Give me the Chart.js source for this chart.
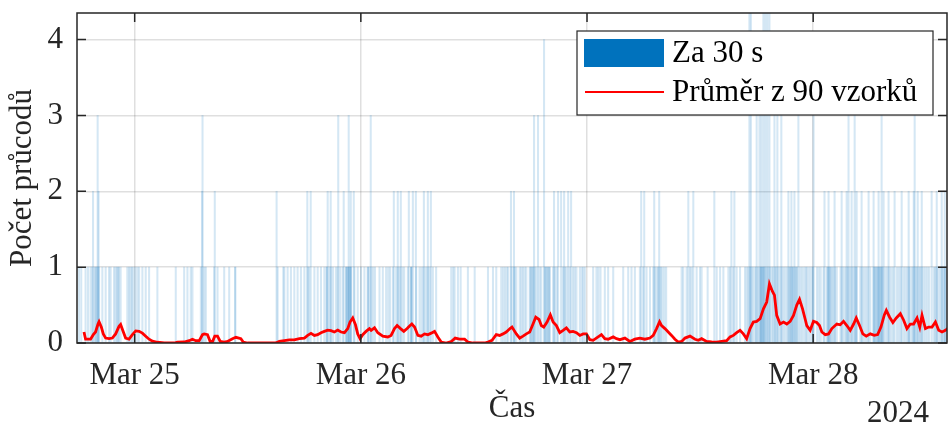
<!DOCTYPE html>
<html>
<head>
<meta charset="utf-8">
<script src="https://cdn.jsdelivr.net/npm/chart.js@4/dist/chart.umd.min.js"></script>
<style>
html,body{margin:0;padding:0;background:#fff;}
#c{display:block;}
</style>
</head>
<body>
<canvas id="c" width="950" height="427" style="width:950px;height:427px"></canvas>
<script>
// ---- DATA (time in hours relative to 2024-03-25 00:00) ----
const xTickHours = [0, 24, 48, 72];
const xTickLabels = ['Mar 25', 'Mar 26', 'Mar 27', 'Mar 28'];
const yTicks = [0, 1, 2, 3, 4];
const yearLabel = '2024';

// 30-s bins with 1 passage
const count1Hours = [-5.91,-5.67,-5.21,-4.95,-4.68,-4.50,-4.25,-4.15,-4.04,-3.93,-3.78,-3.43,-3.08,-2.72,-2.55,-2.19,-2.02,-1.89,-1.76,-1.66,-1.49,-0.78,-0.60,-0.43,-0.30,-0.14,0.07,0.29,0.47,0.82,1.17,1.53,2.41,4.36,5.25,5.60,5.95,6.13,7.02,7.38,7.55,8.44,8.79,9.50,
10.03,10.66,10.68,15.17,15.77,15.88,16.23,16.58,16.94,17.29,17.64,18.01,18.36,18.52,19.07,19.42,19.77,20.13,20.37,20.39,20.66,20.85,21.06,21.36,21.55,21.81,22.08,22.43,22.45,22.55,22.66,22.70,22.80,22.90,22.96,23.32,23.67,24.02,24.38,24.73,
24.75,24.90,25.10,25.30,25.50,25.98,26.33,26.68,26.90,27.10,27.40,27.75,27.95,28.15,28.40,28.60,28.99,29.33,29.35,29.37,29.87,30.23,30.45,30.65,30.90,31.10,31.30,31.64,31.99,33.59,33.80,33.95,34.30,34.59,35.36,36.08,37.49,38.02,38.37,38.90,39.10,39.30,39.50,39.65,39.97,40.20,40.33,
40.50,40.86,41.03,41.20,41.39,41.56,41.92,42.00,42.10,42.20,42.30,42.45,42.62,42.98,43.15,43.52,43.60,43.70,43.80,43.90,44.00,44.05,44.40,44.60,44.80,45.45,45.65,45.81,46.17,46.52,46.70,46.88,47.24,47.45,47.60,47.77,48.65,49.00,49.20,49.43,49.89,50.24,50.78,51.84,52.37,52.72,53.08,53.61,53.97,54.32,54.68,55.03,55.20,55.40,55.55,55.70,
55.85,56.00,56.20,56.40,58.04,58.21,58.57,58.93,59.10,59.63,59.99,60.16,60.80,61.76,62.12,62.47,63.00,63.18,63.53,63.88,64.24,64.77,64.95,65.12,65.30,65.45,65.60,65.80,65.95,66.15,66.37,66.45,66.55,66.65,66.75,66.85,67.05,67.25,67.43,67.60,67.75,67.96,68.10,68.30,68.50,68.70,68.90,69.10,69.30,69.50,69.56,69.73,69.82,69.92,70.10,70.20,70.30,70.62,70.80,71.00,71.20,
71.30,71.50,71.70,71.90,72.00,72.40,72.60,72.80,73.10,73.45,73.55,73.65,73.75,73.85,73.95,74.10,74.30,74.50,74.90,75.10,75.30,75.50,75.70,75.90,76.10,76.30,76.50,76.60,77.00,77.20,77.40,77.60,77.80,78.06,78.40,78.50,78.60,78.70,78.80,78.90,79.00,79.10,79.20,79.30,79.45,79.70,79.90,80.10,80.30,80.50,80.90,81.10,81.30,81.60,81.80,82.00,82.15,82.30,82.50,82.65,82.85,83.00,83.20,83.35,83.50,83.70,83.90,84.10,84.30,84.80,84.95,85.10,85.30,85.50,85.70,85.85,86.00,86.15];
// 30-s bins with 2 passages
const count2Hours = [-4.42,-3.83,7.16,8.50,15.06,18.32,18.68,20.48,20.80,22.18,22.93,23.25,27.50,27.92,28.24,29.09,29.52,29.84,30.69,31.11,31.43,39.93,40.25,44.50,44.93,45.25,45.57,46.00,46.31,53.75,54.07,55.13,55.66,58.75,59.28,61.51,63.32,63.64,69.37,69.69,70.01,73.20,73.63,74.27,75.02,75.55,76.08,76.61,77.14,77.88,78.41,78.94,79.47,80.00,80.64,81.39,82.13,82.67,83.09,83.52,84.57,85.11,85.64,85.96];
// 30-s bins with 3 passages
const count3Hours = [-3.93,7.20,21.60,22.71,25.05,42.38,42.80,66.00,66.30,66.50,67.89,68.20,68.62,70.43,72.04,75.75,76.40,79.26,82.77];
// 30-s bins with 4 passages
const count4Hours = [43.44];
// 30-s bins with 5 passages (clipped by the axis)
const count5Hours = [65.23,65.39,66.72,66.93,67.14,67.36];

// moving average over 90 samples
const avgHours = [-5.38,-5.21,-4.68,-4.39,-4.15,-3.89,-3.78,-3.54,-3.33,-3.08,-2.72,-2.37,-2.02,-1.66,-1.49,-1.20,-0.96,-0.60,-0.24,0.11,0.47,0.82,1.17,1.53,1.88,2.41,3.13,4.19,4.54,5.25,5.78,6.13,6.48,6.85,7.20,7.38,7.73,8.01,8.26,8.50,8.79,9.08,9.50,9.85,10.38,10.74,11.27,11.52,11.98,14.96,15.35,15.88,16.41,16.94,17.47,18.01,18.36,18.71,19.07,19.42,19.77,20.13,20.48,20.83,21.19,21.55,21.90,22.26,22.61,22.85,23.14,23.43,23.67,23.92,24.20,24.55,24.91,25.09,25.45,25.80,26.33,26.86,27.21,27.57,27.85,28.21,28.56,28.91,29.17,29.41,29.70,30.05,30.40,30.76,31.11,31.46,31.82,32.17,32.53,33.06,33.59,34.01,34.48,35.01,35.36,35.89,37.14,37.49,37.92,38.37,38.73,39.08,39.43,39.83,40.04,40.50,40.86,41.21,41.56,41.92,42.27,42.56,42.91,43.15,43.41,43.76,44.11,44.40,44.75,45.11,45.46,45.81,46.17,46.52,46.88,47.24,47.59,47.94,48.30,48.65,49.18,49.53,49.89,50.24,50.78,51.13,51.49,52.02,52.55,53.08,53.61,54.14,54.68,55.03,55.38,55.70,55.91,56.27,56.62,56.97,57.33,57.68,58.04,58.40,58.93,59.46,59.81,60.16,60.69,61.22,61.76,62.29,62.82,63.18,63.53,63.88,64.24,64.59,64.94,65.30,65.65,66.00,66.37,66.72,67.07,67.36,67.68,67.89,68.13,68.49,68.85,69.20,69.56,69.91,70.26,70.55,70.87,71.18,71.32,71.68,72.03,72.38,72.67,72.92,73.28,73.63,73.98,74.51,74.87,75.22,75.57,75.93,76.29,76.57,76.92,77.27,77.63,78.06,78.48,78.84,79.19,79.55,79.76,80.11,80.46,80.82,81.25,81.60,81.95,82.31,82.66,83.02,83.31,83.55,83.91,84.26,84.61,84.97,85.32,85.67,86.03,86.38];
const avgValues = [0.145,0.05,0.05,0.11,0.145,0.25,0.28,0.21,0.12,0.065,0.057,0.065,0.12,0.22,0.245,0.145,0.065,0.05,0.11,0.16,0.155,0.13,0.09,0.05,0.025,0.01,0,0,0.01,0.013,0.03,0.05,0.03,0.03,0.11,0.12,0.11,0.02,0.02,0.09,0.09,0.02,0.013,0.02,0.057,0.075,0.057,0.013,0,0,0.02,0.03,0.04,0.04,0.057,0.065,0.10,0.127,0.10,0.11,0.136,0.153,0.17,0.162,0.145,0.17,0.145,0.136,0.19,0.276,0.33,0.24,0.12,0.057,0.11,0.153,0.19,0.167,0.2,0.136,0.09,0.08,0.10,0.19,0.23,0.19,0.153,0.19,0.224,0.25,0.21,0.10,0.09,0.12,0.11,0.13,0.153,0.08,0.013,0,0.02,0.065,0.05,0.05,0.013,0,0,0.013,0.035,0.11,0.10,0.12,0.145,0.19,0.21,0.12,0.065,0.09,0.12,0.145,0.25,0.34,0.31,0.23,0.21,0.276,0.37,0.276,0.23,0.136,0.167,0.2,0.145,0.153,0.136,0.10,0.12,0.12,0.044,0.035,0.08,0.11,0.057,0.05,0.08,0.057,0.044,0.065,0.02,0.05,0.065,0.05,0.065,0.10,0.19,0.28,0.23,0.19,0.145,0.10,0.05,0.013,0.02,0.065,0.09,0.05,0.035,0.057,0.02,0.013,0.01,0.02,0.03,0.08,0.10,0.136,0.167,0.12,0.057,0.19,0.276,0.285,0.32,0.45,0.54,0.78,0.68,0.63,0.364,0.25,0.276,0.25,0.285,0.364,0.50,0.575,0.45,0.30,0.23,0.167,0.285,0.27,0.23,0.145,0.11,0.12,0.19,0.25,0.24,0.285,0.23,0.167,0.25,0.33,0.23,0.12,0.09,0.12,0.10,0.11,0.21,0.37,0.43,0.34,0.27,0.33,0.386,0.30,0.19,0.25,0.25,0.33,0.21,0.364,0.19,0.21,0.21,0.276,0.167,0.145,0.167,0.2];

// ---- BUILD ----
const barData = [];
[[count1Hours, 1], [count2Hours, 2], [count3Hours, 3], [count4Hours, 4], [count5Hours, 5]]
  .forEach(([arr, v]) => arr.forEach(h => barData.push({ x: h, y: v })));
const avgData = avgHours.map((h, i) => ({ x: h, y: avgValues[i] }));

const FONT = "'Liberation Serif', 'Times New Roman', serif";
const AX = '#262626';
const GRID = 'rgba(38,38,38,0.15)';

const decor = {
  id: 'decor',
  afterDraw(chart) {
    const { ctx, chartArea: { left, right, top, bottom }, scales: { x, y } } = chart;
    ctx.save();
    ctx.strokeStyle = AX;
    ctx.lineWidth = 1.5;
    ctx.strokeRect(left, top, right - left, bottom - top);
    ctx.beginPath();
    xTickHours.forEach(h => {
      const px = x.getPixelForValue(h);
      ctx.moveTo(px, bottom); ctx.lineTo(px, bottom - 9);
      ctx.moveTo(px, top); ctx.lineTo(px, top + 9);
    });
    yTicks.forEach(v => {
      const py = y.getPixelForValue(v);
      ctx.moveTo(left, py); ctx.lineTo(left + 9, py);
      ctx.moveTo(right, py); ctx.lineTo(right - 9, py);
    });
    ctx.stroke();

    // legend
    const ds = chart.data.datasets;
    ctx.fillStyle = '#fff';
    ctx.fillRect(577, 31, 356, 84);
    ctx.lineWidth = 1.2;
    ctx.strokeStyle = AX;
    ctx.strokeRect(577, 31, 356, 84);
    ctx.fillStyle = 'rgb(0,114,189)';
    ctx.fillRect(584, 39, 80, 28);
    ctx.strokeStyle = ds[1].borderColor;
    ctx.lineWidth = 2;
    ctx.beginPath(); ctx.moveTo(585, 92); ctx.lineTo(664, 92); ctx.stroke();
    ctx.fillStyle = '#000';
    ctx.font = '31px ' + FONT;
    ctx.textBaseline = 'middle';
    ctx.textAlign = 'left';
    ctx.fillText(ds[0].label, 672, 54);
    ctx.fillText(ds[1].label, 672, 93);

    // year
    ctx.fillStyle = AX;
    ctx.textAlign = 'right';
    ctx.fillText(yearLabel, 929, 414);
    ctx.restore();
  }
};

new Chart(document.getElementById('c'), {
  data: {
    datasets: [
      { type: 'bar', label: 'Za 30 s', data: barData, backgroundColor: 'rgba(0,114,189,0.17)',
        borderWidth: 0, barThickness: 1.4, grouped: false, order: 2 },
      { type: 'line', label: 'Průměr z 90 vzorků', data: avgData, borderColor: '#ff0000',
        borderWidth: 2.8, pointRadius: 0, tension: 0, fill: false, order: 1 }
    ]
  },
  options: {
    responsive: false,
    animation: false,
    devicePixelRatio: 1,
    layout: { padding: { top: 13, right: 3, left: 0, bottom: 0 } },
    plugins: { legend: { display: false }, tooltip: { enabled: false } },
    scales: {
      x: {
        type: 'linear', min: -6.12, max: 86.2, offset: false,
        afterBuildTicks: s => { s.ticks = xTickHours.map(v => ({ value: v })); },
        afterFit: s => { s.height = 84; s.paddingLeft = 0; s.paddingRight = 0; },
        ticks: {
          callback: v => xTickLabels[xTickHours.indexOf(v)],
          font: { family: FONT, size: 31 }, color: AX, padding: 14, maxRotation: 0, autoSkip: false
        },
        grid: { color: GRID, lineWidth: 1.5, drawTicks: false, offset: false },
        border: { display: false },
        title: { display: true, text: 'Čas', font: { family: FONT, size: 31 }, color: AX, padding: { top: 0, bottom: 0 } }
      },
      y: {
        min: 0, max: 4.35,
        afterBuildTicks: s => { s.ticks = yTicks.map(v => ({ value: v })); },
        afterFit: s => { s.width = 77; s.paddingTop = 0; s.paddingBottom = 0; },
        ticks: { font: { family: FONT, size: 31 }, color: AX, padding: 14 },
        grid: { color: GRID, lineWidth: 1.5, drawTicks: false },
        border: { display: false },
        title: { display: true, text: 'Počet průcodů', font: { family: FONT, size: 31 }, color: AX, padding: { top: 4, bottom: 0 } }
      }
    }
  },
  plugins: [decor]
});
</script>
</body>
</html>
